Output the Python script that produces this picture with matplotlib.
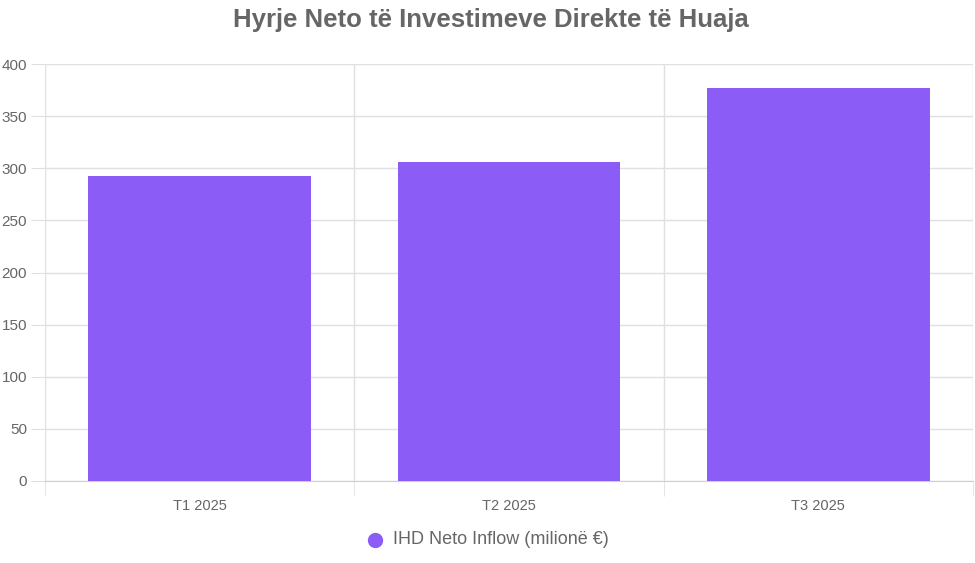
import numpy as np
import matplotlib
matplotlib.use('Agg')
from matplotlib import pyplot as plt

plt.rcParams['font.family'] = ['Liberation Sans', 'DejaVu Sans']

# data
quarters = ['T1 2025', 'T2 2025', 'T3 2025']
inflow = [293, 306, 377]
series_name = 'IHD Neto Inflow (milionë €)'

bar_color = '#8B5CF6'
grid_color = '#e0e0e0'
text_color = '#666666'

fig = plt.figure(figsize=(9.75, 5.63), dpi=100)
ax = fig.add_axes([45/975, 1 - 481/563, 928/975, (481 - 64)/563])

x = np.arange(len(quarters))
ax.bar(x, inflow, width=0.72, color=bar_color, zorder=3)

ax.set_xlim(-0.5, len(quarters) - 0.5)
ax.set_ylim(0, 400)
ax.set_yticks(np.arange(0, 401, 50))
ax.set_xticks(x)
ax.set_xticklabels(quarters)
ax.set_xticks(np.arange(-0.5, len(quarters), 1), minor=True)

ax.grid(True, axis='y', which='major', color=grid_color, linewidth=1, zorder=0)
ax.grid(True, axis='x', which='minor', color=grid_color, linewidth=1, zorder=0)
ax.tick_params(axis='y', length=10, color=grid_color, labelcolor=text_color, labelsize=11, pad=3)
ax.tick_params(axis='x', which='major', length=0, labelcolor=text_color, labelsize=10.5, pad=13)
ax.tick_params(axis='x', which='minor', length=11, color=grid_color)
for s in ax.spines.values():
    s.set_visible(False)
ax.spines['bottom'].set_visible(True)
ax.spines['bottom'].set_color('#d0d0d0')

fig.text(491/975, 1 - 20/563, 'Hyrje Neto të Investimeve Direkte të Huaja', ha='center', va='center',
         fontsize=18.5, fontweight='bold', color=text_color)

# legend
fig.text(393/975, 1 - 540/563, series_name, ha='left', va='center', fontsize=13, color=text_color)
fig.lines.append(plt.Line2D([375/975], [1 - 540/563], marker='o', markersize=10, color=bar_color,
                            transform=fig.transFigure, figure=fig))

fig.savefig('out.png', dpi=100)
